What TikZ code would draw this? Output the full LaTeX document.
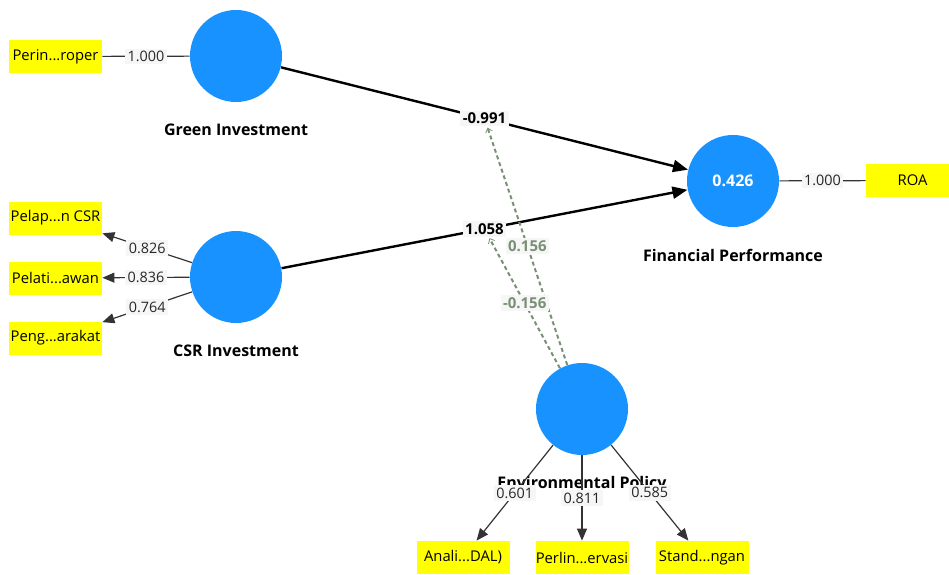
\documentclass[tikz,border=0pt]{standalone}
\usepackage{fontspec}
\setmainfont{Open Sans}
\usepackage{tikz}
\usetikzlibrary{positioning,arrows.meta}

\definecolor{lvblue}{RGB}{24,146,255}
\definecolor{mvyellow}{RGB}{255,255,0}
\definecolor{modgreen}{RGB}{122,144,118}
\definecolor{lblbg}{RGB}{246,246,246}

\tikzset{
  lv/.style={circle, fill=lvblue, minimum size=46pt, inner sep=0pt},
  mv/.style={fill=mvyellow, minimum width=46.5pt, minimum height=16.5pt, inner sep=0pt, font=\fontsize{7.4}{8}\selectfont},
  lvname/.style={inner sep=0pt, font=\fontsize{8}{9}\selectfont\bfseries},
  ld/.style={fill=lblbg, inner sep=1.2pt, text=black!85, font=\fontsize{7.2}{8}\selectfont},
  coef/.style={fill=lblbg, inner sep=1.2pt, font=\fontsize{7.5}{8}\selectfont\bfseries},
  modlbl/.style={fill=lblbg, inner sep=1.2pt, text=modgreen, font=\fontsize{7.5}{8}\selectfont\bfseries},
  loadline/.style={draw=black!80, line width=0.6pt},
  pathline/.style={draw=black, line width=1.2pt, -{Triangle[length=7.5pt,width=6pt]}},
  modline/.style={draw=modgreen, line width=1pt, dash pattern=on 2pt off 1.5pt, -{Straight Barb[length=2pt,width=3.5pt,line width=0.4pt]}}
}

\begin{document}
\begin{tikzpicture}[x=0.5pt, y=-0.5pt, >={Triangle[length=6pt,width=5pt]}]
    \useasboundingbox (0,0) rectangle (949,574);
    \clip (0,0) rectangle (949,574);

    % latent variables
    \node[lv] (gi) at (236,56) {};
    \node[lv] (csr) at (236,277) {};
    \node[lv, text=white, font=\fontsize{8}{9}\selectfont\bfseries] (fp) at (733,181) {0.426};
    \node[lv] (ep) at (582,409) {};

    \node[lvname, below=10.5pt of gi] (giname) {Green Investment};
    \node[lvname, below=10.5pt of csr] (csrname) {CSR Investment};
    \node[lvname, below=10.5pt of fp] (fpname) {Financial Performance};
    \node[lvname, below=10.5pt of ep] (epname) {Environmental Policy};

    % indicators
    \node[mv] (gi1) at (55.5,56.5) {Perin...roper};
    \node[mv] (csr1) at (55.5,218) {Pelap...n CSR};
    \node[mv] (csr2) at (55.5,278) {Pelati...awan};
    \node[mv] (csr3) at (55.5,338) {Peng...arakat};
    \node[mv] (fp1) at (912.5,180.5) {ROA};
    \node[mv] (ep1) at (463,557.5) {Anali...DAL)};
    \node[mv] (ep2) at (582,557.5) {Perlin...ervasi};
    \node[mv] (ep3) at (702,557.5) {Stand...ngan};

    \draw[loadline] (gi) -- node[ld] {1.000} (gi1);
    \draw[loadline, ->] (csr) -- node[ld] {0.826} (csr1);
    \draw[loadline, ->] (csr) -- node[ld] {0.836} (csr2);
    \draw[loadline, ->] (csr) -- node[ld] {0.764} (csr3);
    \draw[loadline] (fp) -- node[ld] {1.000} (fp1);
    \draw[loadline, ->] (ep) -- node[ld] {0.601} (ep1);
    \draw[loadline, ->] (ep) -- node[ld] {0.811} (ep2);
    \draw[loadline, ->] (ep) -- node[ld] {0.585} (ep3);

    % inner model
    \draw[pathline] (gi) -- node[coef] (p1) {-0.991} (fp);
    \draw[pathline] (csr) -- node[coef] (p2) {1.058} (fp);
    \draw[modline] (ep) -- node[modlbl] {0.156} (p1);
    \draw[modline] (ep) -- node[modlbl] {-0.156} (p2);
\end{tikzpicture}
\end{document}
